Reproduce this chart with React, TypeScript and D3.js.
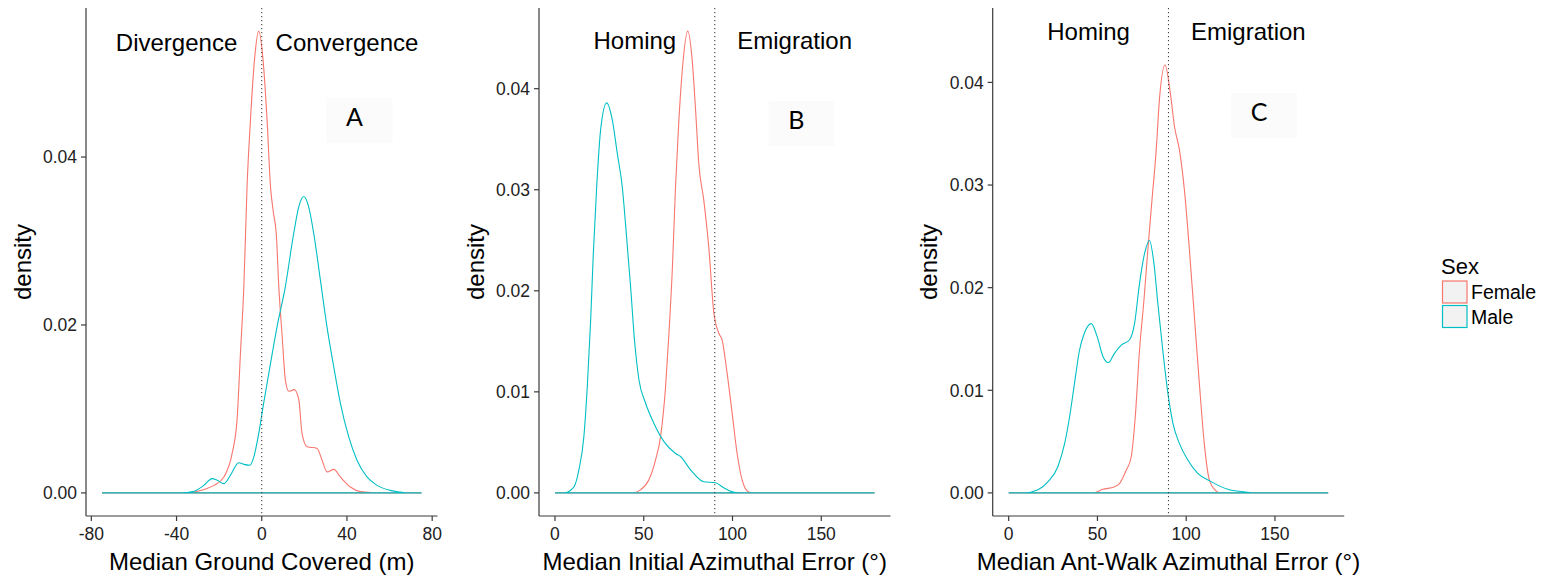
import React from "react";
import * as d3 from "d3";

// ---------- data ----------
const sexes = ["Female", "Male"];
const sexColors = ["#F8766D", "#00BFC4"];

// Panel A: Median Ground Covered (m)
const aFemaleX = [-75, -35, -30, -26, -22.5, -17.8, -13.9, -11.6, -10, -8.4, -6.9, -5.3, -3.4, -1.4, 0.6, 2.5, 4.1, 5.3, 6.9, 8.0, 9.6, 11.1, 12.7, 15.3, 17.4, 18.9, 21.3, 26, 28.3, 30.7, 33.8, 36.9, 41.6, 46.3, 52, 57, 75];
const aFemaleY = [0, 0, 0.0002, 0.0005, 0.0009, 0.0019, 0.0047, 0.0087, 0.0166, 0.0246, 0.0365, 0.0444, 0.0516, 0.055, 0.0516, 0.0444, 0.0365, 0.0337, 0.0305, 0.0246, 0.0186, 0.0134, 0.0121, 0.0123, 0.0111, 0.0071, 0.0055, 0.0053, 0.0039, 0.0025, 0.0028, 0.0019, 0.0007, 0.00015, 0.00003, 0, 0];
const aMaleX = [-75, -38, -31.8, -27.2, -23.3, -20.9, -17.8, -14.7, -10.8, -8.4, -5.6, -3.7, -1.4, 0.9, 4.1, 7.2, 11.1, 15, 17.4, 19.7, 22, 24.4, 27.5, 30.6, 33.8, 36.9, 40.8, 44.7, 49.4, 54.1, 60.3, 65, 69, 75];
const aMaleY = [0, 0, 0.0002, 0.0009, 0.0017, 0.0015, 0.0011, 0.0021, 0.0036, 0.0034, 0.0033, 0.0043, 0.0071, 0.0107, 0.0154, 0.0198, 0.0246, 0.0309, 0.0341, 0.0353, 0.0341, 0.0309, 0.0254, 0.0198, 0.015, 0.0107, 0.0067, 0.0039, 0.0019, 0.0009, 0.0003, 0.0001, 0, 0];

// Panel B: Median Initial Azimuthal Error (°)
const bFemaleX = [0, 43.5, 48.2, 52.9, 56.7, 59.5, 62.3, 64.1, 66.1, 67.9, 69.8, 71.7, 74.8, 77.3, 79.2, 81, 83.8, 86.6, 89.5, 92.3, 94.2, 97, 99.8, 102.6, 105.4, 109.1, 112, 180];
const bFemaleY = [0, 0, 0.0003, 0.0013, 0.0033, 0.0056, 0.0105, 0.0155, 0.0221, 0.0303, 0.0369, 0.0418, 0.0457, 0.0428, 0.0379, 0.0326, 0.029, 0.0244, 0.0178, 0.0158, 0.0151, 0.0118, 0.0079, 0.0039, 0.0013, 0.0001, 0, 0];
const bMaleX = [0, 5.1, 10.7, 13.5, 16.3, 18.2, 20.1, 21.6, 23.5, 25.7, 29.1, 32.3, 35.1, 37.9, 40.3, 42.6, 44.8, 47.3, 51, 55.7, 61.3, 67.9, 70.7, 76.3, 83.8, 90.4, 95.1, 99.8, 104, 180];
const bMaleY = [0, 0, 0.0006, 0.0023, 0.0056, 0.0105, 0.0171, 0.0237, 0.0303, 0.0359, 0.0386, 0.0369, 0.0336, 0.0303, 0.0254, 0.0204, 0.0151, 0.0112, 0.0089, 0.0069, 0.0051, 0.0039, 0.0036, 0.0023, 0.0011, 0.001, 0.0005, 0.0001, 0, 0];

// Panel C: Median Ant-Walk Azimuthal Error (°)
const cFemaleX = [0, 47.5, 53.1, 59.6, 62.4, 66.2, 69, 71.3, 73.7, 76.2, 78.4, 80.7, 83.1, 84.9, 88.1, 91.1, 93.4, 96.2, 99, 101.8, 104.6, 107.4, 110.2, 113, 116.8, 119, 180];
const cFemaleY = [0, 0, 0.00035, 0.0006, 0.0009, 0.0022, 0.0035, 0.0074, 0.0139, 0.0188, 0.0237, 0.0285, 0.0334, 0.0383, 0.0417, 0.0389, 0.0357, 0.0334, 0.0295, 0.0237, 0.0172, 0.0107, 0.0048, 0.0013, 0.0002, 0, 0];
const cMaleX = [0, 9, 16.5, 22.2, 27.8, 31.5, 34.3, 37.1, 39.9, 42.7, 46.5, 49.9, 53.1, 56.2, 59.6, 63.4, 68, 70.9, 73.7, 76.5, 79.3, 81.8, 84, 86.8, 89.7, 92.5, 96.2, 100.9, 106.5, 114, 123.4, 132.7, 140, 180];
const cMaleY = [0, 0, 0.0003, 0.0011, 0.0026, 0.0048, 0.0074, 0.0107, 0.0139, 0.0156, 0.0165, 0.0152, 0.0133, 0.0127, 0.0136, 0.0144, 0.0149, 0.0165, 0.0204, 0.0233, 0.0246, 0.0224, 0.0185, 0.0139, 0.0097, 0.0068, 0.0048, 0.0032, 0.0019, 0.0011, 0.00035, 0.0001, 0, 0];

// axis ticks
const aXTicks = [-80, -40, 0, 40, 80];
const aYTicks = [0, 0.02, 0.04];
const bcXTicks = [0, 50, 100, 150];
const bcYTicks = [0, 0.01, 0.02, 0.03, 0.04];

// annotations
const aNotes = [{ x: -40, y: 0.0537, text: "Divergence" }, { x: 40, y: 0.0537, text: "Convergence" }];
const bNotes = [{ x: 45, y: 0.0448, text: "Homing" }, { x: 135, y: 0.0448, text: "Emigration" }];
const cNotes = [{ x: 45, y: 0.045, text: "Homing" }, { x: 135, y: 0.045, text: "Emigration" }];
const panelLetters = [
  { x: 43.5, y: 0.0448, text: "A" },
  { x: 136, y: 0.0369, text: "B" },
  { x: 141, y: 0.0371, text: "C" },
];

const xTitles = [
  "Median Ground Covered (m)",
  "Median Initial Azimuthal Error (°)",
  "Median Ant-Walk Azimuthal Error (°)",
];
const refLines = [0, 90, 90];

// ---------- layout ----------
const W = 1544;
const H = 579;
const plotTop = 8;
const plotBottom = 516;
const plotLefts = [86, 539, 992.7];
const plotWidth = 351.5;
const FONT = "'Liberation Sans', Arial, sans-serif";

type Note = { x: number; y: number; text: string };

function Panel(props: {
  left: number;
  xData: [number, number];
  series: { x: number[]; y: number[] }[];
  xTicks: number[];
  yTicks: number[];
  yFmt: (v: number) => string;
  notes: Note[];
  letter: Note;
  xTitle: string;
  ref: number;
}) {
  const { left, xData, series, xTicks, yTicks, yFmt, notes, letter, xTitle, ref } = props;
  const span = xData[1] - xData[0];
  const x = d3
    .scaleLinear()
    .domain([xData[0] - 0.05 * span, xData[1] + 0.05 * span])
    .range([left, left + plotWidth]);
  const maxY = Math.max(
    ...series.map((s) => d3.max(s.y) as number),
    ...notes.map((n) => n.y)
  );
  const y = d3
    .scaleLinear()
    .domain([-0.05 * maxY, 1.05 * maxY])
    .range([plotBottom, plotTop]);

  const line = d3
    .line<[number, number]>()
    .x((d) => x(d[0]))
    .y((d) => y(d[1]))
    .curve(d3.curveMonotoneX);

  const right = left + plotWidth;
  const midX = (left + right) / 2;
  const midY = (plotTop + plotBottom) / 2;

  return (
    <g>
      {/* curves */}
      {series.map((s, i) => {
        const pts = s.x.map((v, j) => [v, s.y[j]] as [number, number]);
        return (
          <path
            key={i}
            d={(line(pts) as string) + "Z"}
            fill="none"
            stroke={sexColors[i]}
            strokeWidth={1.1}
          />
        );
      })}
      {/* reference line */}
      <line
        x1={x(ref)}
        x2={x(ref)}
        y1={plotTop}
        y2={plotBottom}
        stroke="#333"
        strokeWidth={1}
        strokeDasharray="1.2,2.8"
      />
      {/* annotations */}
      {notes.map((n, i) => (
        <text
          key={i}
          x={x(n.x)}
          y={y(n.y)}
          dy="0.36em"
          textAnchor="middle"
          fontFamily={FONT}
          fontSize={24}
          fill="#000"
        >
          {n.text}
        </text>
      ))}
      {/* panel letter box */}
      <rect
        x={x(letter.x) - 28}
        y={y(letter.y) - 19}
        width={66}
        height={45}
        fill="#fbfbfb"
      />
      <text
        x={x(letter.x)}
        y={y(letter.y)}
        dy="0.36em"
        textAnchor="middle"
        fontFamily="Lato, 'Open Sans', sans-serif"
        fontSize={25}
        fill="#000"
      >
        {letter.text}
      </text>
      {/* axes */}
      <line x1={left} x2={left} y1={plotTop} y2={plotBottom} stroke="#3a3a3a" strokeWidth={1.2} />
      <line x1={left} x2={right} y1={plotBottom} y2={plotBottom} stroke="#3a3a3a" strokeWidth={1.2} />
      {xTicks.map((t) => (
        <g key={"x" + t}>
          <line x1={x(t)} x2={x(t)} y1={plotBottom} y2={plotBottom + 5} stroke="#3a3a3a" strokeWidth={1.2} />
          <text
            x={x(t)}
            y={plotBottom + 24}
            textAnchor="middle"
            fontFamily={FONT}
            fontSize={17.5}
            fill="#222"
          >
            {t}
          </text>
        </g>
      ))}
      {yTicks.map((t) => (
        <g key={"y" + t}>
          <line x1={left - 5} x2={left} y1={y(t)} y2={y(t)} stroke="#3a3a3a" strokeWidth={1.2} />
          <text
            x={left - 9}
            y={y(t)}
            dy="0.36em"
            textAnchor="end"
            fontFamily={FONT}
            fontSize={17.5}
            fill="#222"
          >
            {yFmt(t)}
          </text>
        </g>
      ))}
      <text
        x={midX}
        y={570}
        textAnchor="middle"
        fontFamily={FONT}
        fontSize={24}
        fill="#000"
      >
        {xTitle}
      </text>
      <text
        transform={`translate(${left - 55.5},${midY}) rotate(-90)`}
        textAnchor="middle"
        fontFamily={FONT}
        fontSize={24}
        fill="#000"
      >
        density
      </text>
    </g>
  );
}

export default function App() {
  const fmt2 = d3.format(".2f");
  return (
    <svg
      width={W}
      height={H}
      style={{ position: "absolute", left: 0, top: 0, background: "#fff" }}
    >
      <rect x={0} y={0} width={W} height={H} fill="#fff" />
      <Panel
        left={plotLefts[0]}
        xData={[-75, 75]}
        series={[
          { x: aFemaleX, y: aFemaleY },
          { x: aMaleX, y: aMaleY },
        ]}
        xTicks={aXTicks}
        yTicks={aYTicks}
        yFmt={fmt2}
        notes={aNotes}
        letter={panelLetters[0]}
        xTitle={xTitles[0]}
        ref={refLines[0]}
      />
      <Panel
        left={plotLefts[1]}
        xData={[0, 180]}
        series={[
          { x: bFemaleX, y: bFemaleY },
          { x: bMaleX, y: bMaleY },
        ]}
        xTicks={bcXTicks}
        yTicks={bcYTicks}
        yFmt={fmt2}
        notes={bNotes}
        letter={panelLetters[1]}
        xTitle={xTitles[1]}
        ref={refLines[1]}
      />
      <Panel
        left={plotLefts[2]}
        xData={[0, 180]}
        series={[
          { x: cFemaleX, y: cFemaleY },
          { x: cMaleX, y: cMaleY },
        ]}
        xTicks={bcXTicks}
        yTicks={bcYTicks}
        yFmt={fmt2}
        notes={cNotes}
        letter={panelLetters[2]}
        xTitle={xTitles[2]}
        ref={refLines[2]}
      />
      {/* legend */}
      <g fontFamily={FONT}>
        <text x={1441} y={274} fontSize={22} fill="#000">
          Sex
        </text>
        {sexes.map((s, i) => (
          <g key={s}>
            <rect
              x={1442.5}
              y={281 + i * 24.5}
              width={24.5}
              height={22}
              fill="#f2f2f2"
              stroke={sexColors[i]}
              strokeWidth={1.2}
            />
            <text x={1471} y={292 + i * 24.5} dy="0.36em" fontSize={19.5} fill="#000">
              {s}
            </text>
          </g>
        ))}
      </g>
    </svg>
  );
}
